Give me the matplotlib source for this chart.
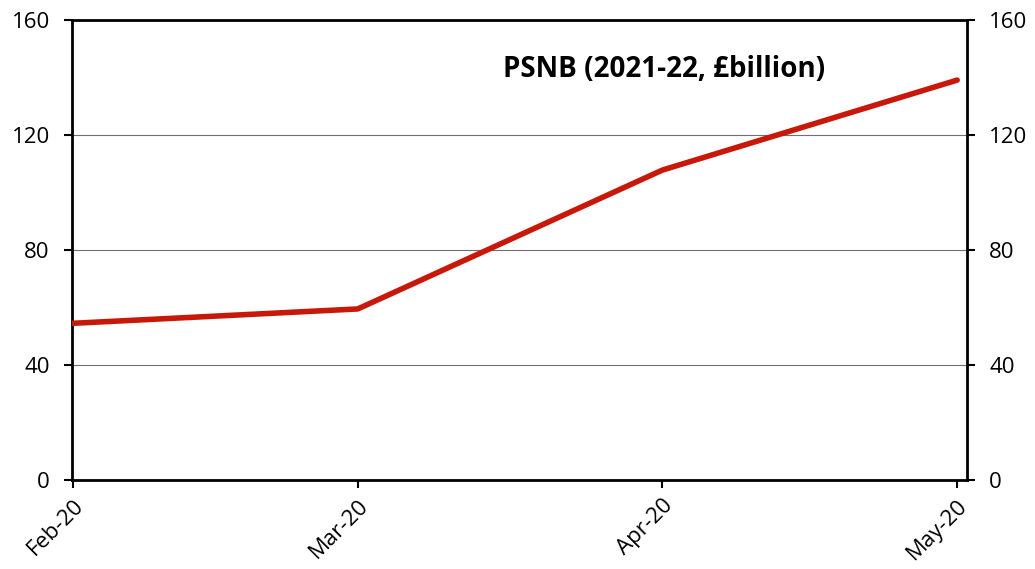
import matplotlib
matplotlib.use("Agg")
import matplotlib.pyplot as plt
import pandas as pd

dates = ["2020-02-01", "2020-03-01", "2020-04-01", "2020-05-01"]
psnb = [54.5, 59.5, 107.8, 139.1]
tick_labels = ["Feb-20", "Mar-20", "Apr-20", "May-20"]
yticks = [0, 40, 80, 120, 160]
title = "PSNB (2021-22, £billion)"

plt.rcParams['font.family'] = ['Open Sans', 'DejaVu Sans']

x = pd.to_datetime(dates)
fig = plt.figure(figsize=(10.35, 5.69), dpi=100)
ax = fig.add_axes([72/1035, 1-480/569, (967-72)/1035, 460/569])

ax.plot(x, psnb, color="#C8180A", lw=4, solid_capstyle="round", zorder=3)

ax.set_ylim(0, 160)
ax.set_yticks(yticks)
ax.set_xlim(pd.Timestamp("2020-01-31 22:00"), pd.Timestamp("2020-05-02"))
ax.set_xticks(x)
ax.set_xticklabels(tick_labels, rotation=45, ha="right", rotation_mode="anchor")
ax.tick_params(axis="x", labelsize=16, length=6, width=1.5, color="black", pad=5)
ax.tick_params(axis="y", labelsize=16, length=6, width=1.5, left=True, right=True,
               labelleft=True, labelright=True, pad=10)
for s in ax.spines.values():
    s.set_linewidth(2)
    s.set_color("black")
ax.grid(axis="y", color="#707070", lw=0.8)
ax.set_axisbelow(True)

ax.text(0.662, 0.893, title, transform=ax.transAxes, ha="center", va="center",
        fontsize=20, fontweight="bold")

fig.savefig("out.png", dpi=100)
